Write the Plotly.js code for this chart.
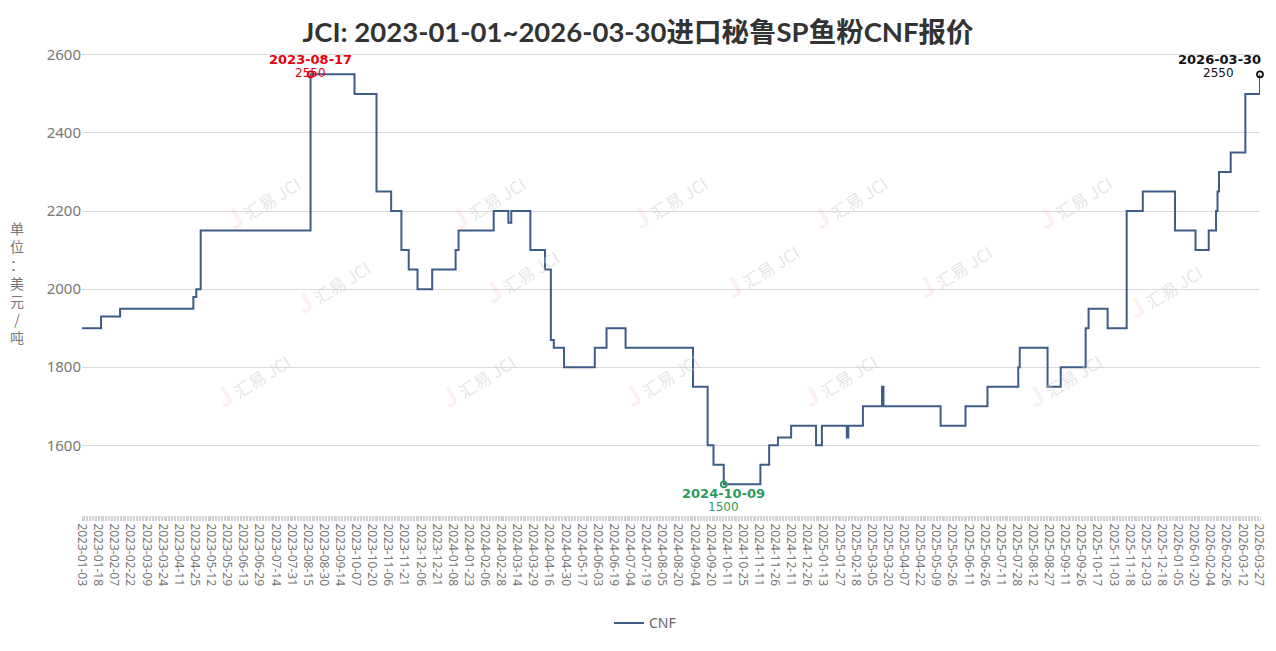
<!DOCTYPE html>
<html><head><meta charset="utf-8">
<script src="https://cdn.plot.ly/plotly-3.0.1.min.js"></script>
<style>html,body{margin:0;padding:0;background:#fff}#chart{width:1276px;height:651px}</style>
</head><body><div id="chart"></div>
<script>
// ---- data: step-change points (date on which the new price starts) ----
var changeDates = ['2023-01-03','2023-01-20','2023-02-13','2023-04-24','2023-04-26','2023-05-04','2023-08-17','2023-09-28','2023-10-25','2023-11-08','2023-11-17','2023-11-24','2023-12-04','2023-12-18','2024-01-10','2024-01-12','2024-02-21','2024-03-06','2024-03-08','2024-03-27','2024-04-11','2024-04-17','2024-04-19','2024-04-29','2024-05-30','2024-06-12','2024-07-01','2024-09-03','2024-09-18','2024-09-24','2024-10-09','2024-11-12','2024-11-20','2024-11-28','2024-12-11','2025-01-06','2025-01-10','2025-02-10','2025-02-11','2025-02-25','2025-03-14','2025-03-17','2025-05-14','2025-06-09','2025-06-30','2025-07-29','2025-07-30','2025-08-26','2025-09-08','2025-09-30','2025-10-10','2025-10-28','2025-11-14','2025-12-01','2025-12-31','2026-01-21','2026-02-03','2026-02-10','2026-02-11','2026-02-12','2026-03-02','2026-03-16','2026-03-30'];
var changeValues = [1900,1930,1950,1980,2000,2150,2550,2500,2250,2200,2100,2050,2000,2050,2100,2150,2200,2170,2200,2100,2050,1870,1850,1800,1850,1900,1850,1750,1600,1550,1500,1550,1600,1620,1650,1600,1650,1620,1650,1700,1750,1700,1650,1700,1750,1800,1850,1750,1800,1900,1950,1900,2200,2250,2150,2100,2150,2200,2250,2300,2350,2500,2550];
var seriesName = 'CNF';
var titleText = 'JCI: 2023-01-01~2026-03-30进口秘鲁SP鱼粉CNF报价';
var yAxisTitle = ['单','位','：','美','元','/','吨'];
var yTicks = [1600,1800,2000,2200,2400,2600];
var tickLabels = ['2023-01-03','2023-01-18','2023-02-07','2023-02-22','2023-03-09','2023-03-24','2023-04-11','2023-04-25','2023-05-12','2023-05-29','2023-06-13','2023-06-29','2023-07-14','2023-07-31','2023-08-15','2023-08-30','2023-09-14','2023-10-07','2023-10-20','2023-11-06','2023-11-21','2023-12-06','2023-12-21','2024-01-08','2024-01-23','2024-02-06','2024-02-28','2024-03-14','2024-03-29','2024-04-16','2024-04-30','2024-05-17','2024-06-03','2024-06-19','2024-07-04','2024-07-19','2024-08-05','2024-08-20','2024-09-04','2024-09-20','2024-10-11','2024-10-25','2024-11-11','2024-11-26','2024-12-11','2024-12-26','2025-01-13','2025-01-27','2025-02-18','2025-03-05','2025-03-20','2025-04-07','2025-04-22','2025-05-09','2025-05-26','2025-06-11','2025-06-26','2025-07-11','2025-07-28','2025-08-12','2025-08-27','2025-09-11','2025-09-26','2025-10-17','2025-11-03','2025-11-18','2025-12-03','2025-12-18','2026-01-05','2026-01-20','2026-02-04','2026-02-26','2026-03-12','2026-03-27'];
// calendar (Chinese trading days): weekend working days and public holidays
var workWeekends = ['2023-01-28','2023-01-29','2023-04-23','2023-05-06','2023-06-25','2023-10-07','2023-10-08','2024-02-04','2024-02-18','2024-04-07','2024-04-28','2024-05-11','2024-09-14','2024-09-29','2024-10-12','2025-01-26','2025-02-08','2025-04-27','2025-09-28','2025-10-11','2026-01-04','2026-02-14','2026-02-28'];
var holidays = ['2023-01-02','2023-01-23','2023-01-24','2023-01-25','2023-01-26','2023-01-27','2023-04-05','2023-05-01','2023-05-02','2023-05-03','2023-06-22','2023-06-23','2023-09-29','2023-10-02','2023-10-03','2023-10-04','2023-10-05','2023-10-06','2024-01-01','2024-02-09','2024-02-12','2024-02-13','2024-02-14','2024-02-15','2024-02-16','2024-04-04','2024-04-05','2024-05-01','2024-05-02','2024-05-03','2024-06-10','2024-09-16','2024-09-17','2024-10-01','2024-10-02','2024-10-03','2024-10-04','2024-10-07','2025-01-01','2025-01-28','2025-01-29','2025-01-30','2025-01-31','2025-02-03','2025-02-04','2025-04-04','2025-05-01','2025-05-02','2025-05-05','2025-06-02','2025-10-01','2025-10-02','2025-10-03','2025-10-06','2025-10-07','2025-10-08','2026-01-01','2026-01-02','2026-02-16','2026-02-17','2026-02-18','2026-02-19','2026-02-20','2026-02-23'];

function ymd(d){return d.toISOString().slice(0,10);}
var breaks = [];
for (var t = Date.UTC(2022,11,20); t <= Date.UTC(2026,3,15); t += 86400000) {
  var d = new Date(t), s = ymd(d), wd = d.getUTCDay();
  if (((wd === 0 || wd === 6) && workWeekends.indexOf(s) < 0) || holidays.indexOf(s) >= 0) breaks.push(s);
}

var lineColor = '#3d5c88';
var iMax = changeValues.indexOf(Math.max.apply(null, changeValues));
var iMin = changeValues.indexOf(Math.min.apply(null, changeValues));
var iLast = changeValues.length - 1;
var maxC = '#e8000b', minC = '#2e9a5e', lastC = '#111111';

var traces = [
  {x: changeDates, y: changeValues, type: 'scatter', mode: 'lines', name: seriesName,
   line: {color: lineColor, width: 2, shape: 'hv'}, hoverinfo: 'x+y'},
  {x: [changeDates[iMax], changeDates[iMin], changeDates[iLast]],
   y: [changeValues[iMax], changeValues[iMin], changeValues[iLast]],
   type: 'scatter', mode: 'markers', showlegend: false, hoverinfo: 'skip', cliponaxis: false,
   marker: {symbol: 'circle-open', size: 6, color: [maxC, minC, lastC], line: {width: 1.8, color: [maxC, minC, lastC]}}}
];

function ann(x, y, text, color, opts) {
  var a = {x: x, y: y, xref: 'x', yref: 'y', text: text, showarrow: false,
    font: {family: 'DejaVu Sans', size: 12, color: color}};
  for (var k in opts) a[k] = opts[k];
  return a;
}
var annotations = [];
// faint watermarks (drawn first, underneath)
var wm = [[215,160],[440,160],[668,160],[895,160],[1120,160],[285,285],[520,275],[760,270],[1000,270],[1210,290],[205,420],[430,420],[660,420],[885,420],[1110,420]];
wm.forEach(function(p){
  annotations.push({xref: 'paper', yref: 'paper', x: (p[0]-82)/1178, y: (519-p[1])/479, showarrow: false,
    text: '<span style="color:rgba(240,160,160,0.35);font-size:26px"><b>J</b></span> 汇易 JCI', textangle: -32,
    font: {family: 'Noto Sans CJK SC', size: 17, color: 'rgba(205,205,205,0.5)'}});
});
annotations = annotations.concat([
  ann(changeDates[iMax], changeValues[iMax], '<b>' + changeDates[iMax] + '</b>', maxC, {yshift: 15, font: {family: 'DejaVu Sans', size: 13, color: maxC}}),
  ann(changeDates[iMax], changeValues[iMax], String(changeValues[iMax]), maxC, {yshift: 1}),
  ann(changeDates[iMin], changeValues[iMin], '<b>' + changeDates[iMin] + '</b>', minC, {yshift: -9, font: {family: 'DejaVu Sans', size: 13, color: minC}}),
  ann(changeDates[iMin], changeValues[iMin], String(changeValues[iMin]), minC, {yshift: -23}),
  ann(changeDates[iLast], changeValues[iLast], '<b>' + changeDates[iLast] + '</b>', lastC, {yshift: 15, xanchor: 'right', xshift: 3, font: {family: 'DejaVu Sans', size: 13, color: lastC}}),
  ann(changeDates[iLast], changeValues[iLast], String(changeValues[iLast]), lastC, {yshift: 1, xanchor: 'right', xshift: -24}),
  {xref: 'paper', yref: 'paper', x: (17-82)/1178, xanchor: 'center', y: 0.49, text: yAxisTitle.join('<br>'), showarrow: false,
   font: {family: 'Noto Sans CJK SC', size: 14, color: '#777'}, align: 'center'}
]);

var layout = {
  width: 1276, height: 651,
  margin: {l: 82, r: 16, t: 40, b: 132},
  paper_bgcolor: '#fff', plot_bgcolor: '#fff',
  title: {text: '<b>' + titleText + '</b>', x: 0.5, xanchor: 'center', y: 1 - 32/651, yanchor: 'middle',
          font: {family: 'Lato, Noto Sans CJK SC', size: 27.5, color: '#333'}},
  xaxis: {type: 'date', range: [changeDates[0], changeDates[iLast]],
          rangebreaks: [{values: breaks, dvalue: 86400000}],
          tickmode: 'array', tickvals: tickLabels, ticktext: tickLabels, tickangle: 90,
          tickfont: {family: 'Noto Sans', size: 12, color: '#777'},
          showgrid: false, zeroline: false, showline: true, linecolor: '#ddd', linewidth: 1,
          ticks: 'outside', ticklen: 4, tickcolor: '#ccc',
          minor: {dtick: 86400000, ticks: 'outside', ticklen: 4, tickcolor: '#d0d0d0', showgrid: false}},
  yaxis: {range: [1419, 2638], tickmode: 'array', tickvals: yTicks,
          tickfont: {family: 'Noto Sans', size: 15, color: '#777'},
          showgrid: true, gridcolor: '#d9d9d9', gridwidth: 1, zeroline: false, ticks: '', showline: false},
  showlegend: true,
  legend: {orientation: 'h', x: (645-82)/1178, xanchor: 'center', y: (519-627)/479, yanchor: 'middle',
           itemwidth: 30, font: {family: 'Noto Sans', size: 14, color: '#666'}},
  annotations: annotations
};
Plotly.newPlot('chart', traces, layout, {displayModeBar: false, staticPlot: true});
</script></body></html>
